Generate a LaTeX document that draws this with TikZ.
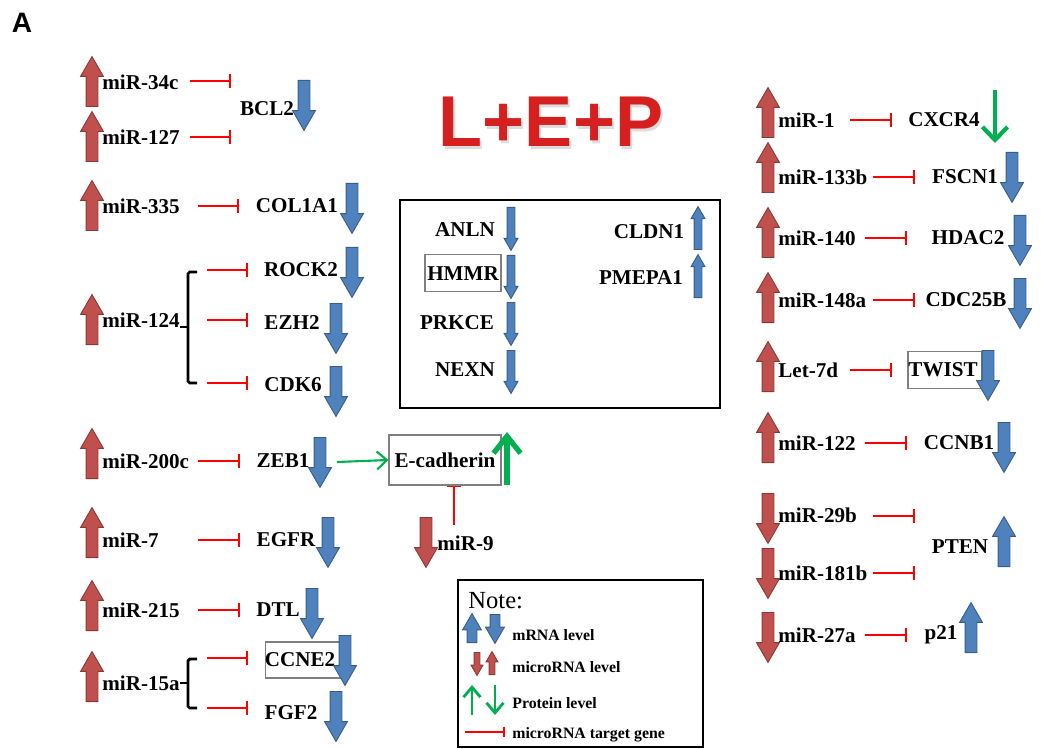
\documentclass[tikz,border=0pt]{standalone}
\usepackage{fontspec}
\setmainfont{Liberation Serif}
\newfontfamily\titlefont{Liberation Sans}
\usetikzlibrary{shapes.arrows,arrows.meta}
\definecolor{mirfill}{RGB}{192,80,77}
\definecolor{mirline}{RGB}{140,56,53}
\definecolor{mfill}{RGB}{79,129,189}
\definecolor{mline}{RGB}{56,93,138}
\definecolor{protgreen}{RGB}{0,176,80}
\definecolor{titlered}{RGB}{214,32,32}
\newcommand\gfont{\bfseries\fontsize{12}{14}\selectfont}
\tikzset{
  lbl/.style={font=\gfont, inner sep=0pt},
  mir/.style={lbl, anchor=west},
  gbox/.style={draw=gray, line width=0.6pt, minimum width=14.8mm, minimum height=7.4mm, inner sep=0pt},
  blk/.style={single arrow, anchor=tail, inner xsep=0pt, inner ysep=1.1mm, line width=0.5pt, minimum height=10mm,
    minimum width=4.4mm, single arrow head extend=1.1mm, single arrow tip angle=60},
  redar/.style={blk, fill=mirfill, draw=mirline},
  bluar/.style={blk, fill=mfill, draw=mline},
  thin/.style={minimum height=8.6mm, minimum width=2.6mm, inner ysep=0.7mm, single arrow head extend=0.6mm},
  up/.style={rotate=90},
  dn/.style={rotate=-90},
  inh/.style={red, line width=0.9pt, -{Bar[width=8pt]}},
  brk/.style={black, line width=1.6pt, rounded corners=1pt},
  prot/.style={protgreen, line width=2.4pt, -{Straight Barb[length=2.6mm,width=5mm]}},
  frame/.style={draw, line width=1.4pt}
}
\begin{document}
\begin{tikzpicture}[x=0.2mm, y=-0.2mm]
\useasboundingbox (0,0) rectangle (1041,749);
\node[font=\titlefont\bfseries\fontsize{16}{18}\selectfont, inner sep=0pt] (lab) at (22,23) {A};
% title
\node[font=\titlefont\bfseries\fontsize{41}{44}\selectfont, text=gray!45, opacity=.6, inner sep=0pt] (titsh) at (553,125) {L+E+P};
\node[font=\titlefont\bfseries\fontsize{41}{44}\selectfont, text=titlered, inner sep=0pt] (tit) at (551,122) {L+E+P};

% left column
\node[mir] (m34c) at (102,82) {miR-34c};
\node[mir] (m127) at (102,137) {miR-127};
\node[mir] (m335) at (102,206) {miR-335};
\node[mir] (m124) at (102,320) {miR-124};
\node[mir] (m200c) at (102,461) {miR-200c};
\node[mir] (m7) at (102,540) {miR-7};
\node[mir] (m215) at (102,610) {miR-215};
\node[mir] (m15a) at (102,683) {miR-15a};
\foreach \n/\y in {34c/107,127/162,335/231,124/345,200c/479,7/558,215/631,15a/702}
  \node[redar, up] (a\n) at (92,\y) {};

\node[lbl] (bcl2) at (267,109) {BCL2};
\node[lbl] (col1a1) at (297,206) {COL1A1};
\node[lbl] (rock2) at (301,270) {ROCK2};
\node[lbl] (ezh2) at (292,323) {EZH2};
\node[lbl] (cdk6) at (293,385) {CDK6};
\node[lbl] (zeb1) at (283,461) {ZEB1};
\node[lbl] (egfr) at (286,540) {EGFR};
\node[lbl] (dtl) at (278,610) {DTL};
\node[gbox, minimum width=15.4mm, minimum height=7.2mm] (ccne2box) at (304,660) {};
\node[lbl] (ccne2) at (300,660) {CCNE2};
\node[lbl] (fgf2) at (291,713) {FGF2};
\foreach \n/\x/\y in {bcl2/304/80,col1a1/352/183,rock2/352/247,ezh2/336/303,cdk6/336/366,
    zeb1/320/437,egfr/328/517,dtl/312/588,ccne2/345/635,fgf2/336/691}
  \node[bluar, dn] (g\n) at (\x,\y) {};

% brackets
\draw[brk] (197,272) -- (188,272) -- (188,383) -- (197,383);
\draw[brk] (180,327) -- (188,327);
\draw[brk] (197,659) -- (188,659) -- (188,708) -- (197,708);
\draw[brk] (180,683) -- (188,683);

% inhibition lines
\foreach \n/\xa/\xb/\y in {i34c/190/231/81, i127/190/231/137, i335/198/239/206,
    irock/207/248/270, iezh/207/248/320, icdk/207/248/383, i200c/198/240/461,
    i7/198/240/540, i215/198/240/610, iccne/207/248/658, ifgf/207/248/708,
    i1/850/892/120, i133b/873/915/177, i140/865/907/238, i148a/873/915/300,
    ilet/850/892/370, i122/865/907/443, i29b/873/915/516, i181b/873/915/573,
    i27a/865/907/635} {
  \coordinate (\n s) at (\xa,\y);
  \coordinate (\n e) at (\xb,\y);
  \draw[inh] (\n s) -- (\n e);
}

% middle box
\node[frame, minimum width=64mm, minimum height=41.6mm, inner sep=0pt] (mid) at (560,304) {};
\node[lbl] (anln) at (465,230) {ANLN};
\node[gbox, minimum width=15.2mm] (hmmrbox) at (463,273) {};
\node[lbl] (hmmr) at (463,274) {HMMR};
\node[lbl] (prkce) at (457,323) {PRKCE};
\node[lbl] (nexn) at (465,370) {NEXN};
\node[lbl] (cldn1) at (649,232) {CLDN1};
\node[lbl] (pmepa1) at (641,278) {PMEPA1};
\foreach \n/\y in {anln/207,hmmr/255,prkce/302,nexn/350}
  \node[bluar, thin, dn] (g\n) at (511,\y) {};
\node[bluar, thin, up] (gcldn1) at (698,250) {};
\node[bluar, thin, up] (gpmepa1) at (698,298) {};

% E-cadherin
\node[gbox, minimum width=22.4mm, minimum height=10mm, font=\gfont] (ecad) at (445,460) {E-cadherin};
\coordinate (zebout) at (337,462);
\draw[protgreen, line width=1.2pt, -{Straight Barb[length=2mm,width=3.6mm]}] (zebout) -- (ecad.west);
\coordinate (ecadlo) at (507,485);
\coordinate (ecadhi) at (507,432);
\draw[prot, line width=3pt, -{Straight Barb[length=3.4mm,width=5.4mm]}] (ecadlo) -- (ecadhi);
\node[redar, dn] (a9) at (426,517) {};
\node[mir] (m9) at (437,543) {miR-9};
\coordinate (m9top) at (454,525);
\draw[inh] (m9top) -- (m9top |- ecad.south);

% right column
\node[mir] (m1) at (778,120) {miR-1};
\node[mir] (m133b) at (778,177) {miR-133b};
\node[mir] (m140) at (778,238) {miR-140};
\node[mir] (m148a) at (778,300) {miR-148a};
\node[mir] (mlet) at (778,370) {Let-7d};
\node[mir] (m122) at (778,443) {miR-122};
\node[mir] (m29b) at (778,515) {miR-29b};
\node[mir] (m181b) at (778,573) {miR-181b};
\node[mir] (m27a) at (778,635) {miR-27a};
\foreach \n/\y in {1/138,133b/193,140/258,148a/323,let/392,122/463}
  \node[redar, up] (a\n) at (768,\y) {};
\foreach \n/\y in {29b/493,181b/548,27a/612}
  \node[redar, dn] (a\n) at (768,\y) {};

\node[lbl] (cxcr4) at (944,120) {CXCR4};
\node[lbl] (fscn1) at (965,177) {FSCN1};
\node[lbl] (hdac2) at (968,238) {HDAC2};
\node[lbl] (cdc25b) at (966,300) {CDC25B};
\node[gbox] (twistbox) at (945,370) {};
\node[lbl] (twist) at (943,370) {TWIST};
\node[lbl] (ccnb1) at (959,443) {CCNB1};
\node[lbl] (pten) at (960,547) {PTEN};
\node[lbl] (p21) at (941,635) {p21};
\coordinate (cxhi) at (995,90);
\coordinate (cxlo) at (995,143);
\draw[prot] (cxhi) -- (cxlo);
\foreach \n/\x/\y in {fscn1/1012/152,hdac2/1020/215,cdc25b/1020/278,twist/988/350,ccnb1/1004/422}
  \node[bluar, dn] (g\n) at (\x,\y) {};
\node[bluar, up] (gpten) at (1004,567) {};
\node[bluar, up] (gp21) at (971,653) {};

% note box
\node[frame, minimum width=49mm, minimum height=33.4mm, inner sep=0pt] (note) at (580.5,663.5) {};
\node[anchor=west, inner sep=0pt, font=\fontsize{14}{16}\selectfont] (notet) at (468,601) {Note:};
\node[bluar, up, minimum height=5.8mm, minimum width=3.6mm, inner ysep=0.9mm, single arrow head extend=0.9mm] (lmup) at (472,643) {};
\node[bluar, dn, minimum height=5.8mm, minimum width=3.6mm, inner ysep=0.9mm, single arrow head extend=0.9mm] (lmdn) at (495,614) {};
\node[redar, dn, minimum height=4.6mm, minimum width=2.2mm, inner ysep=0.5mm, single arrow head extend=0.6mm] (lrdn) at (477,652) {};
\node[redar, up, minimum height=4.6mm, minimum width=2.2mm, inner ysep=0.5mm, single arrow head extend=0.6mm] (lrup) at (492,675) {};
\coordinate (lgu1) at (472,715);
\coordinate (lgu2) at (472,685);
\coordinate (lgd1) at (495,685);
\coordinate (lgd2) at (495,715);
\draw[prot, line width=1.6pt, -{Straight Barb[length=2mm,width=3.4mm]}] (lgu1) -- (lgu2);
\draw[prot, line width=1.6pt, -{Straight Barb[length=2mm,width=3.4mm]}] (lgd1) -- (lgd2);
\coordinate (lis) at (465,732);
\coordinate (lie) at (505,732);
\draw[inh, -{Bar[width=6pt]}] (lis) -- (lie);
\foreach \n/\y/\t in {lm/635/mRNA level, lr/667/microRNA level, lp/703/Protein level, lt/735/microRNA target gene}
  \node[anchor=west, inner sep=0pt, font=\bfseries\fontsize{9}{10}\selectfont] (\n t) at (512,\y) {\t};
\end{tikzpicture}
\end{document}
